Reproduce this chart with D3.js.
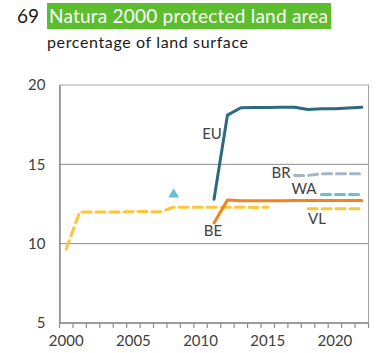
<!DOCTYPE html>
<html>
<head>
<meta charset="utf-8">
<script src="https://cdn.jsdelivr.net/npm/d3@7"></script>
<style>
  html, body { margin: 0; padding: 0; background: #fff; }
  svg { display: block; font-family: Lato, "Open Sans", sans-serif; }
</style>
</head>
<body>
<svg id="chart" width="378" height="353"></svg>
<script>
// Natura 2000 protected land area, % of land surface
const years = d3.range(2000, 2023);
const yTicks = [5, 10, 15, 20];
const xTickLabels = [2000, 2005, 2010, 2015, 2020];

const euValues = [null, null, null, null, null, null, null, null, null, null, null,
  12.8, 18.1, 18.57, 18.58, 18.58, 18.6, 18.6, 18.45, 18.5, 18.5, 18.55, 18.6];
const beValues = [null, null, null, null, null, null, null, null, null, null, null,
  11.3, 12.75, 12.7, 12.7, 12.7, 12.7, 12.72, 12.72, 12.72, 12.72, 12.72, 12.72];
const vlValues = [9.65, 12.0, 12.0, 12.0, 12.0, 12.02, 12.02, 12.0, 12.3, 12.3, 12.3,
  12.3, 12.3, 12.3, 12.28, 12.3, null, null, 12.2, 12.2, 12.2, 12.2, 12.2];
const brValues = [null, null, null, null, null, null, null, null, null, null, null,
  null, null, null, null, null, null, 14.3, 14.3, 14.4, 14.4, 14.4, 14.4];
const waValues = [null, null, null, null, null, null, null, null, null, null, null,
  null, null, null, null, null, null, null, null, 13.1, 13.1, 13.1, 13.1];
// single Walloon observation shown as a marker
const waPointYear = 2008;
const waPointValue = 13.1;

const svg = d3.select("#chart");
const m = { left: 59.5, right: 368.5, top: 85, bottom: 323 };

const x = d3.scaleBand().domain(years).range([m.left, m.right]);
const xc = d => x(d) + x.bandwidth() / 2;
const y = d3.scaleLinear().domain([5, 20]).range([m.bottom, m.top]);

// Title
svg.append("text").attr("x", 17).attr("y", 23)
  .attr("font-size", 19).attr("fill", "#1a1a1a").text("69");
svg.append("rect").attr("x", 47).attr("y", 3).attr("width", 284).attr("height", 26)
  .attr("fill", "#5cbd2e");
svg.append("text").attr("x", 49).attr("y", 23)
  .attr("font-size", 19).attr("fill", "#fff").attr("textLength", 279)
  .text("Natura 2000 protected land area");
svg.append("text").attr("x", 47).attr("y", 48)
  .attr("font-size", 16).attr("fill", "#1a1a1a").attr("textLength", 201)
  .text("percentage of land surface");

// Gridlines and frame
const grid = svg.append("g");
grid.selectAll("line").data([10, 15]).join("line")
  .attr("x1", m.left).attr("x2", m.right)
  .attr("y1", d => y(d)).attr("y2", d => y(d))
  .attr("stroke", "#8c8c8c").attr("stroke-width", 1);
grid.append("rect").attr("x", m.left).attr("y", m.top)
  .attr("width", m.right - m.left).attr("height", m.bottom - m.top)
  .attr("fill", "none").attr("stroke", "#a6a6a6").attr("stroke-width", 1);

// Y axis
const yAxis = svg.append("g").attr("transform", `translate(${m.left},0)`)
  .call(d3.axisLeft(y).tickValues(yTicks).tickSize(0).tickPadding(14));
yAxis.select(".domain").attr("stroke", "#8c8c8c").attr("stroke-width", 1.5);
yAxis.selectAll("text").attr("font-size", 15).attr("fill", "#404040")
  .attr("font-family", "Lato, sans-serif");

// X axis: ticks at band boundaries, labels every 5 years
const xAxisG = svg.append("g").attr("transform", `translate(0,${m.bottom})`);
xAxisG.append("line").attr("x1", m.left).attr("x2", m.right)
  .attr("stroke", "#8c8c8c").attr("stroke-width", 1.5);
xAxisG.selectAll("line.tk").data(years.concat([2023])).join("line").attr("class", "tk")
  .attr("x1", d => d === 2023 ? m.right : x(d)).attr("x2", d => d === 2023 ? m.right : x(d))
  .attr("y1", 0).attr("y2", 5).attr("stroke", "#8c8c8c").attr("stroke-width", 1.2);
xAxisG.call(g => {
  const ax = d3.axisBottom(x).tickValues(xTickLabels).tickSize(0).tickPadding(12);
  const sub = g.append("g").call(ax);
  sub.select(".domain").remove();
  sub.selectAll("text").attr("font-size", 15).attr("fill", "#404040")
    .attr("font-family", "Lato, sans-serif");
});

// Series lines
const line = d3.line()
  .defined(d => d.v != null)
  .x(d => xc(d.year))
  .y(d => y(d.v));
const series = [
  { values: vlValues, color: "#fdc63a", dash: "9,5", width: 3 },
  { values: brValues, color: "#a9b4c2", dash: "9,5", width: 3 },
  { values: waValues, color: "#63c2d0", dash: "9,5", width: 3 },
  { values: beValues, color: "#f5821f", dash: null, width: 3 },
  { values: euValues, color: "#2d6a7e", dash: null, width: 3 }
];
svg.append("g").selectAll("path").data(series).join("path")
  .attr("d", s => line(years.map((yr, i) => ({ year: yr, v: s.values[i] }))))
  .attr("fill", "none")
  .attr("stroke", s => s.color)
  .attr("stroke-width", s => s.width)
  .attr("stroke-dasharray", s => s.dash)
  .attr("stroke-linecap", s => s.dash ? "round" : "round")
  .attr("stroke-linejoin", "round");

// Walloon marker
svg.append("path")
  .attr("d", d3.symbol(d3.symbolTriangle, 50)())
  .attr("transform", `translate(${xc(waPointYear)},${y(waPointValue)})`)
  .attr("fill", "#63c2d0");

// Series labels
const labels = [
  { t: "EU", x: 212, y: 139 },
  { t: "BE", x: 213, y: 236 },
  { t: "BR", x: 281, y: 178 },
  { t: "WA", x: 304, y: 194 },
  { t: "VL", x: 317, y: 224 }
];
svg.append("g").selectAll("text").data(labels).join("text")
  .attr("x", d => d.x).attr("y", d => d.y)
  .attr("text-anchor", "middle").attr("font-size", 15).attr("fill", "#404040")
  .text(d => d.t);
</script>
</body>
</html>
